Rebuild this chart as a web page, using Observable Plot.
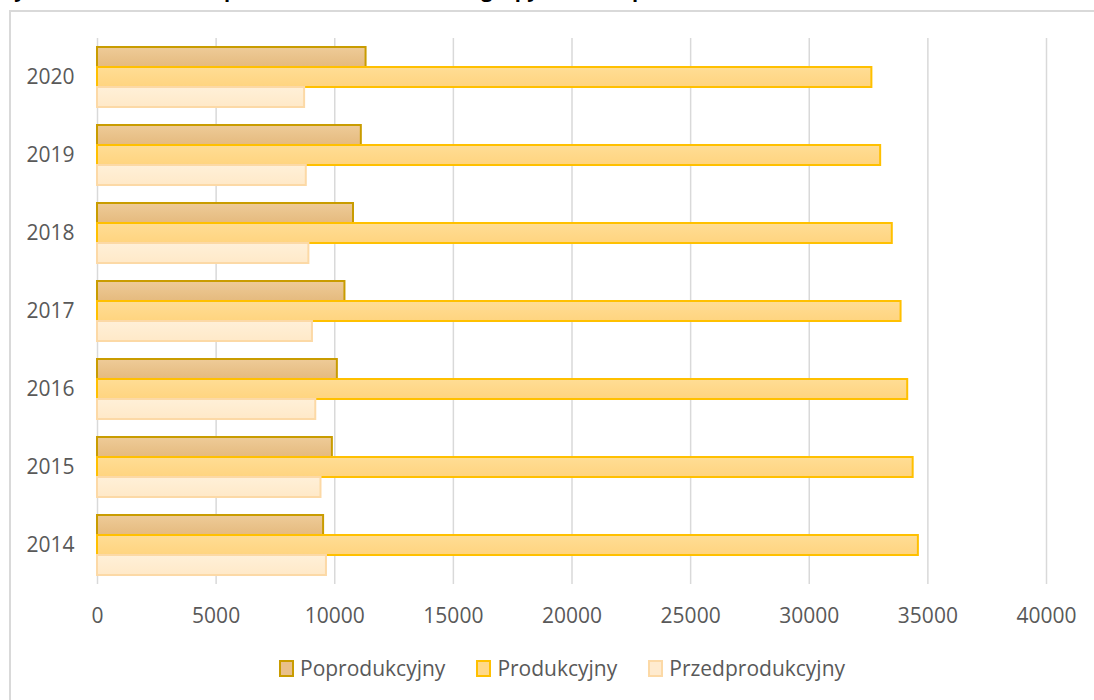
<!DOCTYPE html>
<html>
<head>
<meta charset="utf-8">
<script src="https://cdn.jsdelivr.net/npm/d3@7"></script>
<script src="https://cdn.jsdelivr.net/npm/@observablehq/plot@0.6"></script>
<style>
  html, body { margin: 0; padding: 0; background: #fff; overflow: hidden; }
  body { width: 1094px; height: 700px; position: relative; font-family: "Open Sans", sans-serif; }
  #title { position: absolute; left: 1px; top: -24px; font: bold 20px "Open Sans", sans-serif; color: #000; white-space: nowrap; line-height: 28px; }
  #frame { position: absolute; left: 9px; top: 10px; width: 1200px; height: 800px; border: 2px solid #d9d9d9; box-sizing: border-box; }
  #chart { position: absolute; left: 0; top: 0; }
  #legend { position: absolute; left: 279px; top: 654px; display: flex; font-size: 21px; color: #595959; white-space: nowrap; }
  .item { display: flex; align-items: center; margin-right: 31px; }
  .sw { width: 11px; height: 13px; margin-right: 6px; border: 2px solid; }
</style>
</head>
<body>
<div id="title">Rysunek 6. Ludność w podziale na ekonomiczne grupy wieku w powiecie w latach 2014–2020</div>
<div id="frame"></div>
<div id="chart"></div>
<div id="legend"></div>
<script>
const years = [2014, 2015, 2016, 2017, 2018, 2019, 2020];
const poprodukcyjny = [9530, 9900, 10110, 10430, 10790, 11120, 11320];
const produkcyjny = [34600, 34380, 34150, 33870, 33500, 33010, 32640];
const przedprodukcyjny = [9650, 9420, 9200, 9060, 8910, 8800, 8730];
const seriesNames = ["Poprodukcyjny", "Produkcyjny", "Przedprodukcyjny"];
const xTicks = [0, 5000, 10000, 15000, 20000, 25000, 30000, 35000, 40000];

const seriesStyle = {
  "Poprodukcyjny": {fill: "url(#gPop)", stroke: "#c99c00", sw: "#e9c08a"},
  "Produkcyjny": {fill: "url(#gProd)", stroke: "#ffc000", sw: "#ffd98a"},
  "Przedprodukcyjny": {fill: "url(#gPrz)", stroke: "#fcd9a6", sw: "#ffebcf"}
};

const seriesValues = [poprodukcyjny, produkcyjny, przedprodukcyjny];
const table = [];
years.forEach((y, i) => {
  seriesNames.forEach((s, j) => table.push({year: String(y), series: s, value: seriesValues[j][i]}));
});

const barMarks = seriesNames.map(s => Plot.barX(table.filter(d => d.series === s), {
  x: "value", y: "series", fy: "year",
  fill: seriesStyle[s].fill, stroke: seriesStyle[s].stroke, strokeWidth: 2
}));

const svg = Plot.plot({
  width: 1094,
  height: 640,
  marginLeft: 97,
  marginRight: 48,
  marginTop: 38,
  marginBottom: 56,
  style: {fontFamily: "'Open Sans', sans-serif", fontSize: "21px", color: "#595959", background: "transparent"},
  x: {domain: [0, 40000], ticks: xTicks, tickFormat: d3.format("d"), tickSize: 0, tickPadding: 33, label: null},
  y: {domain: seriesNames, padding: 0, axis: null},
  fy: {domain: years.slice().reverse().map(String), paddingInner: 0.23, paddingOuter: 0.115, axis: "left", tickSize: 0, tickPadding: 23, label: null},
  marks: [
    Plot.ruleX(xTicks, {stroke: "#d9d9d9", strokeWidth: 1.5, insetTop: -9, insetBottom: -9}),
    ...barMarks
  ]
});

d3.select(svg).insert("defs", ":first-child").html(`
  <linearGradient id="gPop" x1="0" y1="0" x2="0" y2="1">
    <stop offset="0" stop-color="#eecb98"/><stop offset="1" stop-color="#e5ba7e"/>
  </linearGradient>
  <linearGradient id="gProd" x1="0" y1="0" x2="0" y2="1">
    <stop offset="0" stop-color="#ffdd95"/><stop offset="1" stop-color="#ffd47f"/>
  </linearGradient>
  <linearGradient id="gPrz" x1="0" y1="0" x2="0" y2="1">
    <stop offset="0" stop-color="#fff0d8"/><stop offset="1" stop-color="#ffe9c8"/>
  </linearGradient>`);

document.getElementById("chart").appendChild(svg);

const legend = d3.select("#legend");
seriesNames.forEach(s => {
  const it = legend.append("div").attr("class", "item");
  it.append("div").attr("class", "sw").style("background", seriesStyle[s].sw).style("border-color", seriesStyle[s].stroke);
  it.append("span").text(s);
});
</script>
</body>
</html>
